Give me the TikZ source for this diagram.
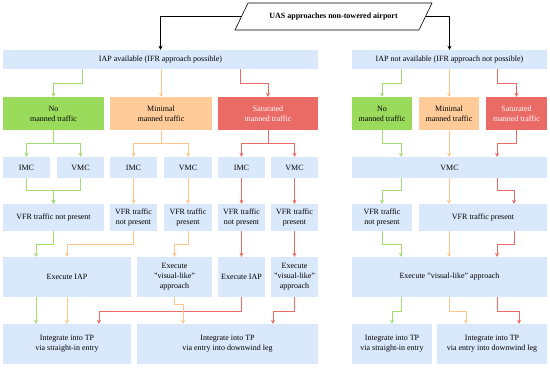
\documentclass[tikz,border=0pt]{standalone}
\usepackage{fontspec}
\setmainfont{Liberation Serif}
\usetikzlibrary{arrows.meta}
\definecolor{boxblue}{HTML}{DAE8FC}
\definecolor{gfill}{HTML}{9BDB5C}
\definecolor{ofill}{HTML}{FFCC99}
\definecolor{rfill}{HTML}{EA6B66}
\definecolor{gline}{HTML}{A2DC72}
\definecolor{oline}{HTML}{FFC58A}
\definecolor{rline}{HTML}{EA6B66}
\newcommand\mkbox[7]{%
  \pgfmathsetmacro\bw{#4-#2}\pgfmathsetmacro\bh{#5-#3}%
  \pgfmathsetmacro\bcx{(#2+#4)/2}\pgfmathsetmacro\bcy{(#3+#5)/2}%
  \node[#6, minimum width=\bw pt, minimum height=\bh pt] (#1) at (\bcx,\bcy) {#7};}
\begin{document}
\begin{tikzpicture}[x=1pt,y=-1pt,
  every node/.style={font=\fontsize{8}{10}\selectfont, inner sep=0pt, align=center},
  bbox/.style={fill=boxblue},
  gbox/.style={fill=gfill},
  obox/.style={fill=ofill},
  rbox/.style={fill=rfill, text=white},
  arr/.style={line width=0.8pt, -{Stealth[length=4pt,width=4pt]}},
  karr/.style={arr, black},
  garr/.style={arr, gline},
  oarr/.style={arr, oline},
  rarr/.style={arr, rline}]
\useasboundingbox (0,0) rectangle (550,368);
% title
\draw[black, line width=0.6pt, fill=white] (235,30) -- (248,3) -- (432,3) -- (419,30) -- cycle;
\node[font=\fontsize{8}{10}\selectfont\bfseries] (title) at (333.5,16.5) {UAS approaches non-towered airport};
\coordinate (tl) at (241.5,16.5);
\coordinate (tr) at (425.5,16.5);
% row 1
\mkbox{iapL}{3}{50}{318}{69}{bbox}{IAP available (IFR approach possible)}
\mkbox{iapR}{352}{50}{547}{69}{bbox}{IAP not available (IFR approach not possible)}
% row 2
\mkbox{noL}{3}{97}{104}{130}{gbox}{No\\manned traffic}
\mkbox{minL}{110}{97}{212}{130}{obox}{Minimal\\manned traffic}
\mkbox{satL}{218}{97}{318}{130}{rbox}{Saturated\\manned traffic}
\mkbox{noR}{352}{97}{412}{130}{gbox}{No\\manned traffic}
\mkbox{minR}{419}{97}{479}{130}{obox}{Minimal\\manned traffic}
\mkbox{satR}{486}{97}{547}{130}{rbox}{Saturated\\manned traffic}
% row 3
\mkbox{imc1}{3}{157}{50}{178}{bbox}{IMC}
\mkbox{vmc1}{57}{157}{104}{178}{bbox}{VMC}
\mkbox{imc2}{110}{157}{157}{178}{bbox}{IMC}
\mkbox{vmc2}{164}{157}{212}{178}{bbox}{VMC}
\mkbox{imc3}{218}{157}{265}{178}{bbox}{IMC}
\mkbox{vmc3}{271}{157}{318}{178}{bbox}{VMC}
\mkbox{vmcR}{352}{157}{547}{178}{bbox}{VMC}
% row 4
\mkbox{vfr1}{3}{204}{104}{231}{bbox}{VFR traffic not present}
\mkbox{vfr2}{110}{204}{157}{231}{bbox}{VFR traffic\\not present}
\mkbox{vfr3}{164}{204}{212}{231}{bbox}{VFR traffic\\present}
\mkbox{vfr4}{218}{204}{265}{231}{bbox}{VFR traffic\\not present}
\mkbox{vfr5}{271}{204}{318}{231}{bbox}{VFR traffic\\present}
\mkbox{vfrR1}{352}{204}{412}{231}{bbox}{VFR traffic\\not present}
\mkbox{vfrR2}{419}{204}{547}{231}{bbox}{VFR traffic present}
% row 5
\mkbox{exL1}{3}{257}{131}{297}{bbox}{Execute IAP}
\mkbox{exL2}{137}{257}{212}{297}{bbox}{Execute\\"visual-like"\\approach}
\mkbox{exL3}{218}{257}{265}{297}{bbox}{Execute IAP}
\mkbox{exL4}{271}{257}{318}{297}{bbox}{Execute\\"visual-like"\\approach}
\mkbox{exR}{352}{257}{547}{297}{bbox}{Execute "visual-like" approach}
% row 6
\mkbox{tpL1}{3}{324}{131}{364}{bbox}{Integrate into TP\\via straight-in entry}
\mkbox{tpL2}{137}{324}{318}{364}{bbox}{Integrate into TP\\via entry into downwind leg}
\mkbox{tpR1}{352}{324}{432}{364}{bbox}{Integrate into TP\\via straight-in entry}
\mkbox{tpR2}{437}{324}{547}{364}{bbox}{Integrate into TP\\via entry into downwind leg}
% title arrows
\draw[karr] (tl) -| (iapL.north);
\draw[karr] (tr) -| (iapR.north);
% row 1 -> row 2
\draw[garr] (iapL.south -| 82,0) -- ++(0,14) -| (noL.north);
\draw[oarr] (iapL.south -| minL.north) -- (minL.north);
\draw[rarr] (iapL.south -| 240,0) -- ++(0,14) -| (satL.north);
\draw[garr] (iapR.south -| 401,0) -- ++(0,14) -| (noR.north);
\draw[oarr] (iapR.south -| minR.north) -- (minR.north);
\draw[rarr] (iapR.south -| 497,0) -- ++(0,14) -| (satR.north);
% row 2 -> row 3
\draw[garr] (noL.south) -- ++(0,13) -| (imc1.north);
\draw[garr] (noL.south) -- ++(0,13) -| (vmc1.north);
\draw[oarr] (minL.south) -- ++(0,13) -| (imc2.north);
\draw[oarr] (minL.south) -- ++(0,13) -| (vmc2.north);
\draw[rarr] (satL.south) -- ++(0,13) -| (imc3.north);
\draw[rarr] (satL.south) -- ++(0,13) -| (vmc3.north);
\draw[garr] (noR.south) -- ++(0,13) -| (vmcR.north -| 401,0);
\draw[oarr] (minR.south) -- (vmcR.north -| minR.south);
\draw[rarr] (satR.south) -- ++(0,13) -| (vmcR.north -| 497,0);
% row 3 -> row 4
\draw[garr] (imc1.south) -- ++(0,12) -| (vfr1.north);
\draw[garr] (vmc1.south) -- ++(0,12) -| (vfr1.north);
\draw[oarr] (imc2.south) -- (vfr2.north);
\draw[oarr] (vmc2.south) -- (vfr3.north);
\draw[rarr] (imc3.south) -- (vfr4.north);
\draw[rarr] (vmc3.south) -- (vfr5.north);
\draw[garr] (vmcR.south -| 401,0) -- ++(0,12) -| (vfrR1.north);
\draw[oarr] (vmcR.south -| 449,0) -- (vfrR2.north -| 449,0);
\draw[rarr] (vmcR.south -| 497,0) -- ++(0,12) -| (vfrR2.north -| 514,0);
% row 4 -> row 5
\draw[garr] (vfr1.south) -- ++(0,13) -| (exL1.north -| 36,0);
\draw[oarr] (vfr2.south) -- ++(0,13) -| (exL1.north);
\draw[oarr] (vfr3.south) -- ++(0,13) -| (exL2.north);
\draw[rarr] (vfr4.south) -- (exL3.north);
\draw[rarr] (vfr5.south) -- (exL4.north);
\draw[garr] (vfrR1.south) -- ++(0,13) -| (exR.north -| 401,0);
\draw[oarr] (vfrR2.south -| 449,0) -- (exR.north -| 449,0);
\draw[rarr] (vfrR2.south -| 514,0) -- ++(0,13) -| (exR.north -| 497,0);
% row 5 -> row 6
\draw[rarr] (exL3.south) -- ++(0,14) -| (tpL1.north -| 99,0);
\draw[rarr] (exL4.south) -- ++(0,14) -| (tpL2.north -| 273,0);
\draw[garr] (exL1.south -| 36,0) -- (tpL1.north -| 36,0);
\draw[oarr] (exL1.south) -- (tpL1.north);
\draw[oarr] (exL2.south) -- ++(0,7) -| (tpL2.north -| 183,0);
\draw[garr] (exR.south -| 401,0) -- ++(0,14) -| (tpR1.north);
\draw[oarr] (exR.south -| 449,0) -- ++(0,14) -| (tpR2.north -| 466,0);
\draw[rarr] (exR.south -| 497,0) -- ++(0,14) -| (tpR2.north -| 519,0);
\end{tikzpicture}
\end{document}
